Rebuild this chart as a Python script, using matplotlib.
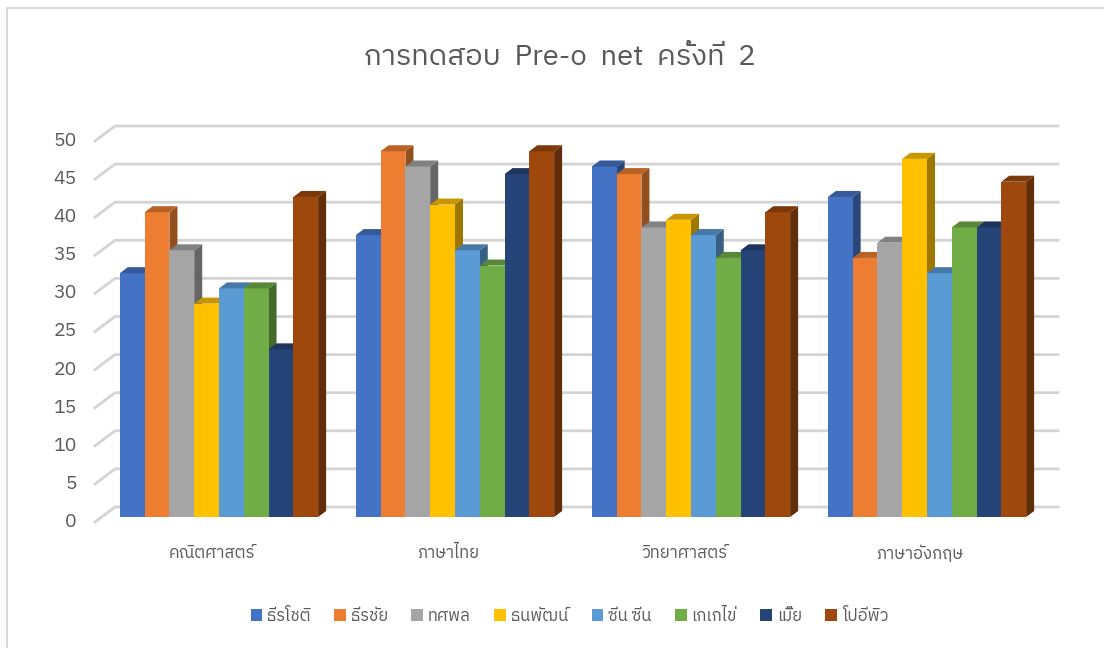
import matplotlib
matplotlib.use('Agg')
import matplotlib.pyplot as plt
from matplotlib import font_manager
from matplotlib.ft2font import FT2Font
from matplotlib.patches import Polygon, Rectangle
import matplotlib.colors as mcolors
import numpy as np

# data
categories = ['คณิตศาสตร์', 'ภาษาไทย', 'วิทยาศาสตร์', 'ภาษาอังกฤษ']
students = ['ธีรโชติ', 'ธีรชัย', 'ทศพล', 'ธนพัฒน์', 'ซีน ซีน', 'เกเกไข่', 'เมี๊ย', 'โปอีพิว']
s_teerachot = [32, 37, 46, 42]
s_teerachai = [40, 48, 45, 34]
s_tosapol = [35, 46, 38, 36]
s_tanapat = [28, 41, 39, 47]
s_seen = [30, 35, 37, 32]
s_kekekai = [30, 33, 34, 38]
s_mia = [22, 45, 35, 38]
s_poeepiw = [42, 48, 40, 44]
yticks = list(range(0, 51, 5))

series = [s_teerachot, s_teerachai, s_tosapol, s_tanapat, s_seen, s_kekekai, s_mia, s_poeepiw]
colors = ['#4472C4', '#ED7D31', '#A5A5A5', '#FFC000', '#5B9BD5', '#70AD47', '#264478', '#9E480E']

# find a font that has Thai glyphs
thai_font = None
for f in font_manager.fontManager.ttflist:
    try:
        if 0x0E01 in FT2Font(f.fname).get_charmap():
            thai_font = f.name
            if 'Thai' in f.name:
                break
    except Exception:
        pass
fams = ([thai_font] if thai_font else []) + ['DejaVu Sans']
plt.rcParams['font.family'] = fams

txt = '#595959'
fig = plt.figure(figsize=(11.04, 6.48), dpi=100)
fig.patches.append(Rectangle((7 / 1104, -0.1), 1.2, 1 - 8 / 648 + 0.1, transform=fig.transFigure,
                             fill=False, edgecolor='#d9d9d9', linewidth=1.5))

ax = fig.add_axes([101 / 1104, 131 / 648, 944 / 1104, 381 / 648])
ax.set_xlim(-0.5, 3.5)
ax.set_ylim(0, 50)
ax.axis('off')

fig.text(0.507, 0.912, 'การทดสอบ  Pre-o  net  ครั้งที่  2', ha='center', va='center',
         fontsize=21, color=txt)

tD = ax.transData
# back wall gridlines with diagonal floor/side ticks
for v in yticks:
    fx, fy = tD.transform((-0.5, v))
    bx, by = tD.transform((3.5, v))
    ax.add_line(plt.Line2D([fx - 6, fx + 14, bx + 13], [fy - 5, fy + 10, fy + 10],
                           transform=None, color='#d4d4d4', linewidth=2, zorder=1,
                           clip_on=False))
    fig.text((fx - 24) / 1104, (fy - 5) / 648, str(v), ha='right', va='center',
             fontsize=14, color=txt)

n = len(series)
w = 0.105
dx, dy = 8, 6
x = np.arange(len(categories))
for i, (vals, c) in enumerate(zip(series, colors)):
    base = np.array(mcolors.to_rgb(c))
    side = base * 0.62
    top = base * 0.78
    pos = x + (i - (n - 1) / 2) * w
    bars = ax.bar(pos, vals, width=w, color=c, zorder=3 + i * 3, label=students[i])
    for b in bars:
        x0, y0 = tD.transform((b.get_x(), 0))
        x1, y1 = tD.transform((b.get_x() + b.get_width(), b.get_height()))
        ax.add_patch(Polygon([(x1, y0), (x1, y1), (x1 + dx, y1 + dy), (x1 + dx, y0 + dy)],
                             closed=True, transform=None, facecolor=side, clip_on=False,
                             edgecolor='none', zorder=b.get_zorder() - 1))
        ax.add_patch(Polygon([(x0, y1), (x1, y1), (x1 + dx, y1 + dy), (x0 + dx, y1 + dy)],
                             closed=True, transform=None, facecolor=top, clip_on=False,
                             edgecolor='none', zorder=b.get_zorder() + 1))

for k, cat in enumerate(categories):
    px, py = tD.transform((k - 0.03, 0))
    fig.text(px / 1104, 95 / 648, cat, ha='center', va='center', fontsize=12, color=txt)

leg = fig.legend(loc='center', bbox_to_anchor=(0.516, 0.05), ncol=8, frameon=False,
                 fontsize=12, handlelength=0.7, handleheight=0.7, handletextpad=0.3,
                 columnspacing=1.4, labelcolor=txt)

fig.savefig('out.png', dpi=100)
